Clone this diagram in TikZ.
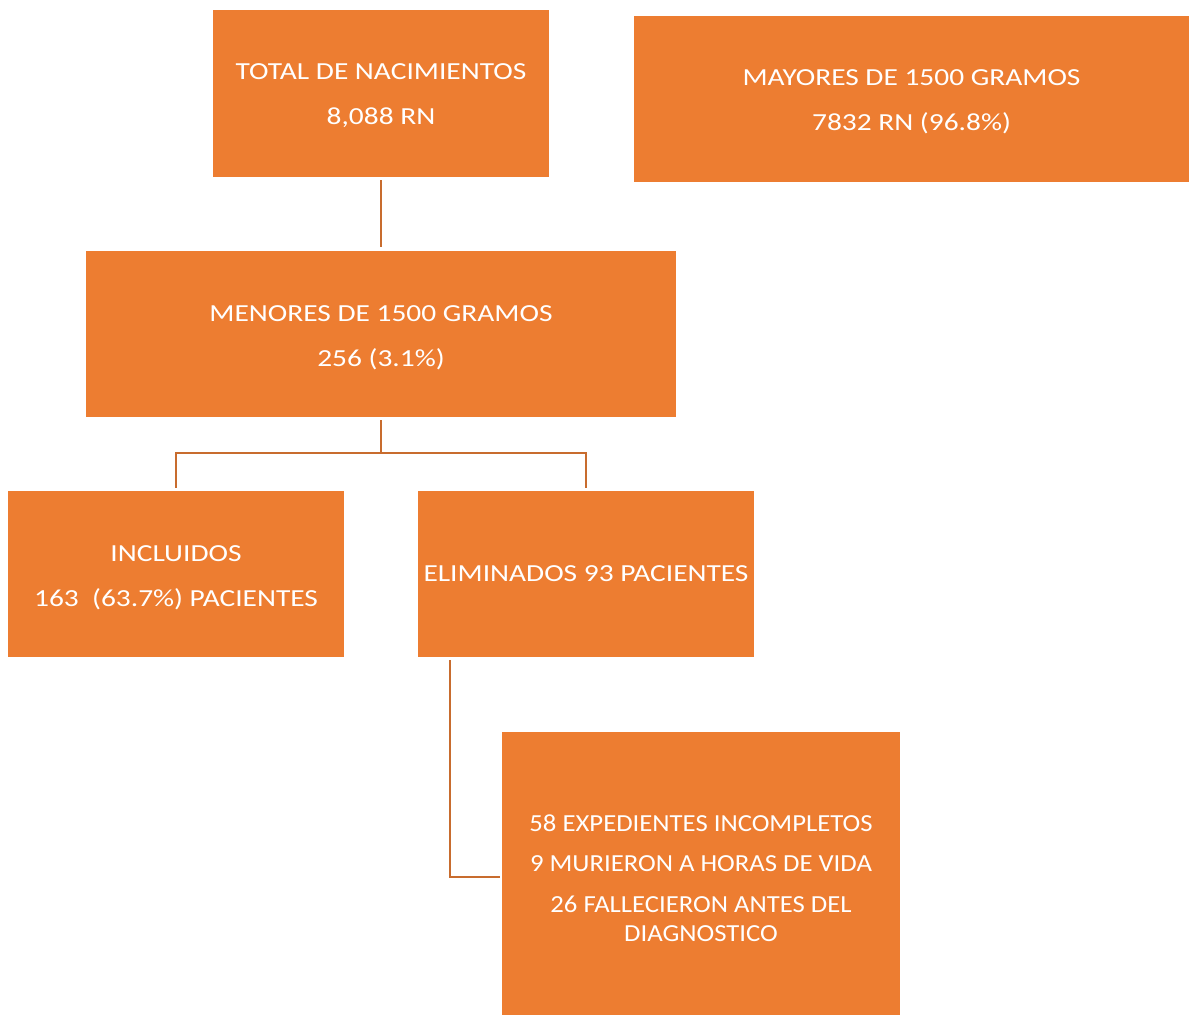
\documentclass[tikz,border=0pt]{standalone}
\usepackage{fontspec}
\setmainfont{Carlito}[FakeStretch=1.2]
\newfontfamily\detfont{Carlito}[FakeStretch=1.09]
\definecolor{boxorange}{RGB}{237,125,49}
\definecolor{lineorange}{RGB}{200,108,46}
\newcommand{\toppad}[1]{\rule{0pt}{#1}}
\begin{document}
\begin{tikzpicture}[x=1pt,y=-1pt,
  obox/.style={fill=boxorange, draw=none, anchor=north west, inner sep=0pt, outer sep=0pt,
    text=white, align=center, font=\fontsize{24.5}{29}\selectfont},
  conn/.style={draw=lineorange, line width=2.6pt}]
\useasboundingbox (0,0) rectangle (1189,1015);
\node[obox, minimum width=336pt, minimum height=167pt] (total) at (213,10) {\toppad{21pt}TOTAL DE NACIMIENTOS\\[16pt]8,088 RN};
\node[obox, minimum width=555pt, minimum height=166pt] (mayores) at (634,16) {\toppad{21pt}MAYORES DE 1500 GRAMOS\\[16pt]7832 RN (96.8\%)};
\node[obox, minimum width=590pt, minimum height=166pt] (menores) at (86,251) {\toppad{23pt}MENORES DE 1500 GRAMOS\\[16pt]256 (3.1\%)};
\node[obox, minimum width=336pt, minimum height=166pt] (incl) at (8,491) {\toppad{23pt}INCLUIDOS\\[16pt]163\ \ (63.7\%) PACIENTES};
\node[obox, minimum width=336pt, minimum height=166pt] (elim) at (418,491) {ELIMINADOS 93 PACIENTES};
\node[obox, minimum width=398pt, minimum height=283pt, font=\fontsize{24.5}{29}\detfont] (det) at (502,732) {\toppad{26pt}58 EXPEDIENTES INCOMPLETOS\\[11.5pt]9 MURIERON A HORAS DE VIDA\\[11.5pt]26 FALLECIERON ANTES DEL\\DIAGNOSTICO};
\draw[conn, shorten <=3pt, shorten >=4pt] (total.south) -- (menores.north);
\coordinate (split) at ([yshift=-36pt]menores.south);
\draw[conn, shorten <=3pt] (menores.south) -- (split);
\draw[conn, shorten >=3pt] (split) -| (incl.north);
\draw[conn, shorten >=3pt] (split) -| (elim.north);
\draw[conn, shorten <=3pt, shorten >=2pt] ([xshift=32pt]elim.south west) |- ([yshift=-3.5pt]det.west);
\end{tikzpicture}
\end{document}
